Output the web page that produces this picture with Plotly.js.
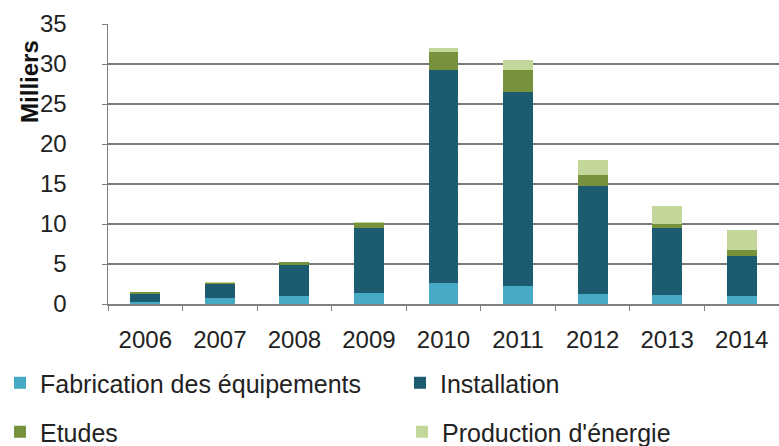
<!DOCTYPE html>
<html>
<head>
<meta charset="utf-8">
<script src="https://cdn.plot.ly/plotly-3.0.1.min.js"></script>
<style>html,body{margin:0;padding:0;background:#fff;}#chart{width:779px;height:446px;}</style>
</head>
<body>
<div id="chart"></div>
<script>
const years = ['2006','2007','2008','2009','2010','2011','2012','2013','2014'];
const fabrication = [0.2, 0.75, 1.05, 1.35, 2.6, 2.3, 1.25, 1.1, 1.05];
const installation = [1.1, 1.75, 3.85, 8.2, 26.65, 24.25, 13.45, 8.4, 4.95];
const etudes = [0.2, 0.15, 0.3, 0.55, 2.25, 2.7, 1.45, 0.5, 0.8];
const production = [0.05, 0.1, 0.1, 0.2, 0.5, 1.25, 1.85, 2.25, 2.4];

const names = ['Fabrication des équipements', 'Installation', 'Etudes', "Production d'énergie"];
const colors = ['#46AAC5', '#1D5B70', '#76923C', '#C4D79B'];
const series = [fabrication, installation, etudes, production];
const legends = ['legend', 'legend2', 'legend3', 'legend4'];

const traces = series.map((vals, i) => ({
  type: 'bar', x: years, y: vals, name: names[i],
  marker: {color: colors[i], line: {width: 0}},
  legend: legends[i], hoverinfo: 'skip'
}));

const font = {family: '"Liberation Sans", Arial, sans-serif', color: '#222'};
const W = 779, H = 446;
const plotW = W - 108;
const plotH = H - 24 - 141.7;
function px2x(p){ return (p - 108) / plotW; }
function py2y(p){ return (304.3 - p) / plotH; }

function leg(textLeft, cy){
  return {
    orientation: 'h', xref: 'container', yref: 'container',
    x: (textLeft - 40) / W, xanchor: 'left', y: 1 - cy / H, yanchor: 'middle',
    font: {size: 25, color: '#222', family: font.family},
    bgcolor: 'rgba(0,0,0,0)', borderwidth: 0
  };
}

const layout = {
  width: W, height: H,
  margin: {l: 108, r: 0, t: 24, b: 141.7},
  paper_bgcolor: '#fff', plot_bgcolor: '#fff',
  barmode: 'stack', bargap: 0.6,
  font: font,
  showlegend: true,
  xaxis: {
    type: 'category', tickfont: {size: 24, color: '#222'},
    showline: true, linecolor: '#7f7f7f', linewidth: 1.5,
    ticks: 'outside', tickson: 'boundaries', ticklen: 5, tickcolor: '#7f7f7f',
    ticklabelstandoff: 14, showgrid: false, automargin: false
  },
  yaxis: {
    range: [0, 35], tickvals: [0,5,10,15,20,25,30,35],
    tickfont: {size: 24, color: '#222'},
    showline: true, linecolor: '#7f7f7f', linewidth: 1.5,
    ticks: 'outside', ticklen: 5, tickcolor: '#7f7f7f',
    ticklabelstandoff: 30, automargin: false,
    showgrid: true, gridcolor: '#7a7a7a', gridwidth: 1.6,
    zeroline: false
  },
  legend: leg(37, 383),
  legend2: leg(440, 383),
  legend3: leg(37, 432),
  legend4: leg(442, 432),
  annotations: [{
    text: '<b>Milliers</b>', textangle: -90, showarrow: false,
    xref: 'paper', yref: 'paper', x: px2x(30), y: py2y(82),
    xanchor: 'center', yanchor: 'middle',
    font: {size: 24, color: '#111', family: font.family}
  }]
};

Plotly.newPlot('chart', traces, layout, {displayModeBar: false, staticPlot: true});
</script>
</body>
</html>
